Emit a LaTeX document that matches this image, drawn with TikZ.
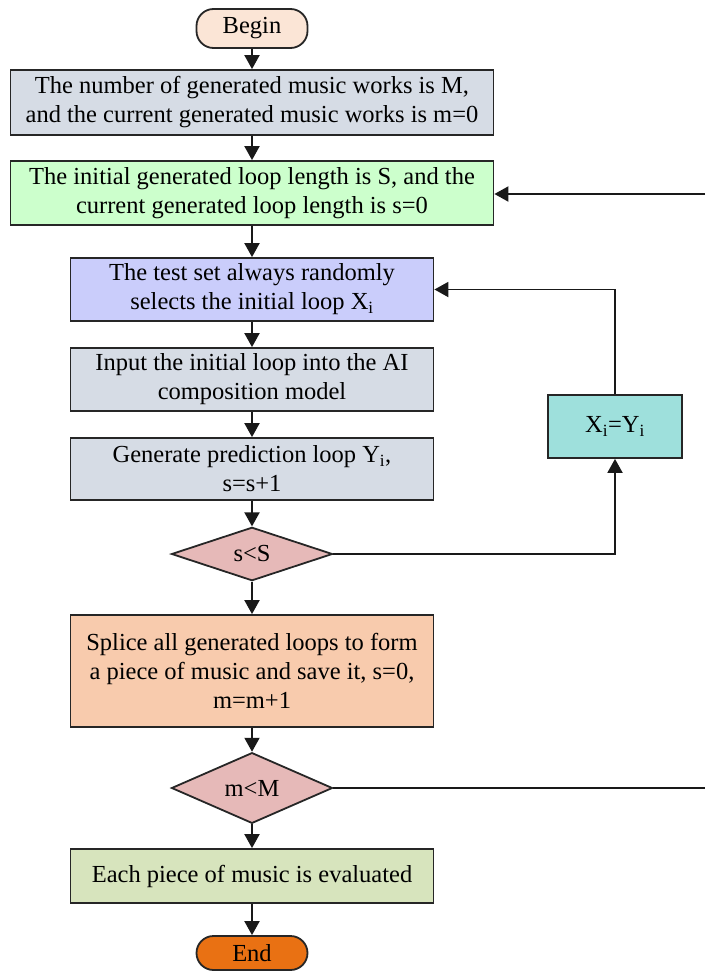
\documentclass[tikz,border=0pt]{standalone}
\usepackage{fontspec}
\setmainfont{Liberation Serif}
\usetikzlibrary{shapes.geometric,arrows.meta}
\definecolor{cbegin}{HTML}{FBE5D6}
\definecolor{cgray}{HTML}{D6DCE5}
\definecolor{cgreen}{HTML}{CCFFCC}
\definecolor{cblue}{HTML}{CACDFB}
\definecolor{corange}{HTML}{F8CBAD}
\definecolor{cdia}{HTML}{E6B9B8}
\definecolor{colive}{HTML}{D7E4BD}
\definecolor{cend}{HTML}{E97113}
\definecolor{cteal}{HTML}{9EE0DC}
\begin{document}
\begin{tikzpicture}[x=1pt,y=-1pt,
  every node/.style={font=\fontsize{24.5}{29}\selectfont, text=black},
  box/.style={draw=black!85, line width=1.8pt, rectangle, align=center, inner sep=0pt},
  term/.style={box, rounded corners=17pt},
  dec/.style={diamond, draw=black!85, line width=1.8pt, inner sep=0pt, fill=cdia, minimum width=161pt, minimum height=52pt},
  conn/.style={line width=1.9pt, draw=black!90, -{Triangle[length=14pt,width=15pt]}},
  plain/.style={line width=1.9pt, draw=black!90}]
\useasboundingbox (0,0) rectangle (705,972);
\node[term, fill=cbegin, minimum width=111pt, minimum height=39pt] (begin) at (252,28.5) {Begin};
\node[box, fill=cgray, minimum width=483pt, minimum height=65pt] (b1) at (252,102.5) {The number of generated music works is M,\\and the current generated music works is m=0};
\node[box, fill=cgreen, minimum width=483pt, minimum height=64pt] (b2) at (252,193) {The initial generated loop length is S, and the\\current generated loop length is s=0};
\node[box, fill=cblue, minimum width=363pt, minimum height=63pt] (b3) at (252,289.5) {The test set always randomly\\selects the initial loop X\textsubscript{i}};
\node[box, fill=cgray, minimum width=363pt, minimum height=63pt] (b4) at (252,379.5) {Input the initial loop into the AI\\composition model};
\node[box, fill=cgray, minimum width=363pt, minimum height=62pt] (b5) at (252,469) {Generate prediction loop Y\textsubscript{i},\\s=s+1};
\node[dec] (d1) at (252,554) {s<S};
\node[box, fill=corange, minimum width=363pt, minimum height=112pt] (b6) at (252,671) {Splice all generated loops to form\\a piece of music and save it, s=0,\\m=m+1};
\node[dec, minimum height=50pt] (d2) at (252,788) {m<M};
\node[box, fill=colive, minimum width=363pt, minimum height=54pt] (b7) at (252,876) {Each piece of music is evaluated};
\node[term, fill=cend, minimum width=111pt, minimum height=34pt] (end) at (252,953) {End};
\node[box, fill=cteal, minimum width=134pt, minimum height=63pt] (bx) at (615,426.5) {X\textsubscript{i}=Y\textsubscript{i}};
\coordinate (rout) at (705,788);
\coordinate (rin) at (705,194);
\draw[conn] (begin) -- (b1);
\draw[conn] (b1) -- (b2);
\draw[conn] (b2) -- (b3);
\draw[conn] (b3) -- (b4);
\draw[conn] (b4) -- (b5);
\draw[conn] (b5) -- (d1);
\draw[conn] (d1) -- (b6);
\draw[conn] (b6) -- (d2);
\draw[conn] (d2) -- (b7);
\draw[conn] (b7) -- (end);
\draw[conn] (d1.east) -| (bx.south);
\draw[conn] (bx.north) |- (b3.east);
\draw[plain] (d2.east) -- (rout);
\draw[conn] (rin) -- (b2.east |- rin);
\end{tikzpicture}
\end{document}
